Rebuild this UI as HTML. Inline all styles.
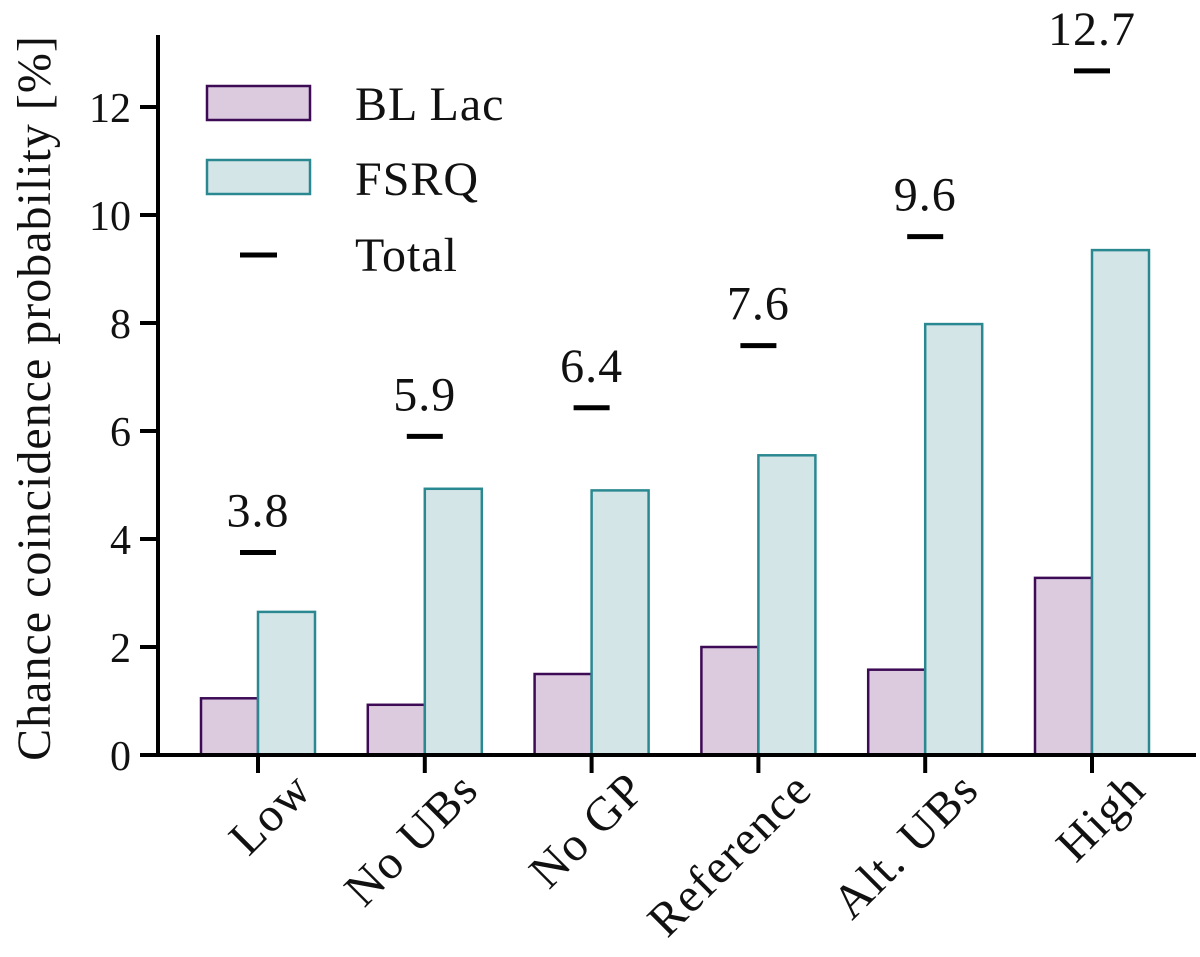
<!DOCTYPE html>
<html><head><meta charset="utf-8"><style>
body{margin:0;background:#fff}
svg text{font-family:"Liberation Serif","DejaVu Serif",serif;fill:#111}
</style></head><body>
<svg id="chart" width="1200" height="952" viewBox="0 0 1200 952" xmlns="http://www.w3.org/2000/svg">
<g id="marks"></g>
<g id="axes"></g>
<g>
<rect x="207" y="86" width="103" height="34" fill="#dccbdf" stroke="#3d0b55" stroke-width="2.5"/>
<text x="355" y="120" font-size="48" letter-spacing="1">BL Lac</text>
<rect x="207" y="160" width="103" height="34" fill="#d4e5e8" stroke="#2a8990" stroke-width="2.5"/>
<text x="355" y="195" font-size="48" letter-spacing="1">FSRQ</text>
<line x1="240" y1="255" x2="277" y2="255" stroke="#000" stroke-width="5"/>
<text x="355" y="271" font-size="48" letter-spacing="1">Total</text>
</g>
<text transform="translate(50,398) rotate(-90)" text-anchor="middle" font-size="48" letter-spacing="1">Chance coincidence probability [%]</text>
</svg>
<script>
const categories=["Low","No UBs","No GP","Reference","Alt. UBs","High"];
const blLac=[1.05,0.93,1.5,2.0,1.58,3.28];
const fsrq=[2.65,4.93,4.9,5.55,7.98,9.35];
const total=[3.75,5.9,6.43,7.58,9.6,12.67];
const totalLabels=["3.8","5.9","6.4","7.6","9.6","12.7"];
const yTicks=[0,2,4,6,8,10,12];

const NS="http://www.w3.org/2000/svg";
const y=v=>755-v*54;
const x=i=>258+i*166.8;
const bw=57;
const marks=document.getElementById('marks');
const axes=document.getElementById('axes');
function mk(tag,attrs,parent){const e=document.createElementNS(NS,tag);for(const k in attrs)e.setAttribute(k,attrs[k]);parent.appendChild(e);return e;}

categories.forEach((c,i)=>{
  const cx=x(i);
  const b=mk('rect',{x:cx-bw,y:y(blLac[i]),width:bw,height:y(0)-y(blLac[i]),fill:'#dccbdf',stroke:'#3d0b55','stroke-width':2.5},marks);
  
  
  const f=mk('rect',{x:cx,y:y(fsrq[i]),width:bw,height:y(0)-y(fsrq[i]),fill:'#d4e5e8',stroke:'#2a8990','stroke-width':2.5},marks);
  
  
  const t=mk('line',{x1:cx-18,x2:cx+18,y1:y(total[i]),y2:y(total[i]),stroke:'#000','stroke-width':5},marks);
  
  
  const tl=mk('text',{x:cx,y:y(total[i])-26,'text-anchor':'middle','font-size':48,'letter-spacing':1},marks);
  tl.textContent=totalLabels[i];
  
  
  const tk=mk('line',{x1:cx,x2:cx,y1:755,y2:773,stroke:'#000','stroke-width':4},axes);
  
  
  const xl=mk('text',{transform:`translate(${cx+56},${792}) rotate(-45)`,'text-anchor':'end','font-size':48,'letter-spacing':1.5},axes);
  xl.textContent=c;
  
  
});
yTicks.forEach((v,i)=>{
  const tk=mk('line',{x1:140,x2:158,y1:y(v),y2:y(v),stroke:'#000','stroke-width':4},axes);
  
  
  const tl=mk('text',{x:131,y:y(v)+15,'text-anchor':'end','font-size':42},axes);
  tl.textContent=v;
  
  
});
const ya=mk('line',{x1:158,x2:158,y1:35,y2:757,stroke:'#000','stroke-width':4},axes);


const xa=mk('line',{x1:156,x2:1196,y1:755,y2:755,stroke:'#000','stroke-width':4},axes);


</script>
</body></html>
